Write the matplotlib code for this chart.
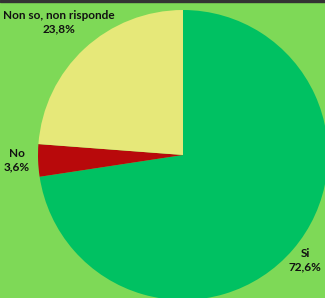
import matplotlib
matplotlib.use("Agg")
import matplotlib.pyplot as plt

categories = ["Si", "No", "Non so, non risponde"]
values = [72.6, 3.6, 23.8]
value_labels = ["72,6%", "3,6%", "23,8%"]
colors = ["#00C162", "#B8090B", "#E6E879"]
bg = "#7ED957"

W, H = 325, 298
fig = plt.figure(figsize=(W / 100, H / 100), dpi=100, facecolor=bg)
ax = fig.add_axes([0, 0, 1, 1])
ax.set_facecolor(bg)

ax.pie(values, colors=colors, startangle=90, counterclock=False,
       center=(183, H - 155), radius=145, frame=True,
       wedgeprops=dict(linewidth=0))
ax.set_xlim(0, W)
ax.set_ylim(0, H)
ax.set_aspect("equal")
ax.axis("off")

label_pos = [(305, H - 260), (17, H - 160), (59, H - 22)]
for cat, lab, (x, y) in zip(categories, value_labels, label_pos):
    ax.text(x, y, f"{cat}\n{lab}", ha="center", va="center", fontsize=8.5,
            fontweight="bold", family="Lato", color="#111111", linespacing=1.3)

# thin dark strip at the top
fig.patches.append(plt.Rectangle((0, 1 - 1.5 / H), 1, 1.5 / H, transform=fig.transFigure,
                                 color="#333333", zorder=10))

fig.savefig("out.png", dpi=100, facecolor=bg)
